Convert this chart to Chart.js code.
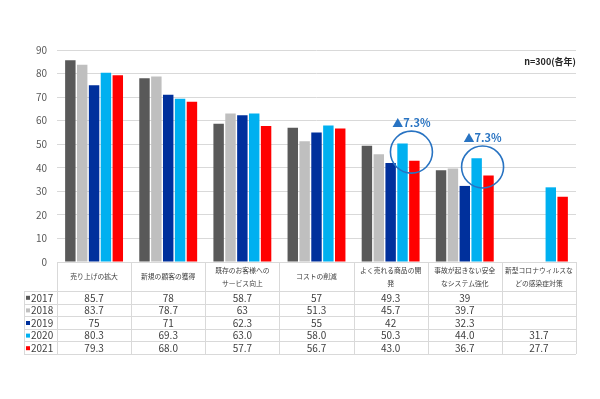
<!DOCTYPE html>
<html><head><meta charset="utf-8">
<script src="https://cdn.jsdelivr.net/npm/chart.js@4/dist/chart.umd.min.js"></script>
<style>html,body{margin:0;padding:0;background:#fff;}#wrap{width:600px;height:399px;}</style>
</head><body><div id="wrap"><canvas id="c" width="600" height="399"></canvas></div>
<script>
const categories = [
  ['売り上げの拡大'],
  ['新規の顧客の獲得'],
  ['既存のお客様への','サービス向上'],
  ['コストの削減'],
  ['よく売れる商品の開','発'],
  ['事故が起きない安全','なシステム強化'],
  ['新型コロナウィルスな','どの感染症対策']
];
const seriesNames = ['2017','2018','2019','2020','2021'];
const v2017 = [85.7, 78, 58.7, 57, 49.3, 39, null];
const v2018 = [83.7, 78.7, 63, 51.3, 45.7, 39.7, null];
const v2019 = [75, 71, 62.3, 55, 42, 32.3, null];
const v2020 = [80.3, 69.3, 63.0, 58.0, 50.3, 44.0, 31.7];
const v2021 = [79.3, 68.0, 57.7, 56.7, 43.0, 36.7, 27.7];
const seriesDecimals = [null, null, null, 1, 1];
const colors = ['#595959','#BFBFBF','#00309C','#00B0F0','#FF0000'];
const yTicks = [0,10,20,30,40,50,60,70,80,90];
const noteText = 'n=300(各年)';
const callouts = [{cat:4, a:3, b:4, text:'▲7.3%', dx:3}, {cat:5, a:3, b:4, text:'▲7.3%', dx:0}];

const allValues = [v2017, v2018, v2019, v2020, v2021];
const FONT = '"Noto Sans CJK JP", "Noto Sans", sans-serif';

const tablePlugin = {
  id: 'tablePlugin',
  afterDraw(chart) {
    const ctx = chart.ctx;
    const ca = chart.chartArea;
    const xs = chart.scales.x;
    const n = categories.length;
    const colW = (ca.right - ca.left) / n;
    const top = ca.bottom;
    const headerH = 29;
    const rowH = 12.6;
    const legendLeft = 24;
    const rowsTop = top + headerH;
    const bottom = rowsTop + rowH * seriesNames.length;
    ctx.save();
    ctx.strokeStyle = '#D9D9D9';
    ctx.lineWidth = 1;
    ctx.beginPath();
    ctx.moveTo(ca.left, Math.round(top) + 0.5); ctx.lineTo(ca.right, Math.round(top) + 0.5);
    for (let r = 0; r <= seriesNames.length; r++) {
      const y = Math.round(rowsTop + r * rowH) + 0.5;
      ctx.moveTo(legendLeft, y); ctx.lineTo(ca.right, y);
    }
    for (let c = 0; c <= n; c++) {
      const x = Math.round(ca.left + c * colW) + 0.5;
      ctx.moveTo(x, top); ctx.lineTo(x, bottom);
    }
    ctx.moveTo(legendLeft + 0.5, rowsTop); ctx.lineTo(legendLeft + 0.5, bottom);
    ctx.stroke();

    ctx.fillStyle = '#404040';
    ctx.textAlign = 'center';
    ctx.textBaseline = 'middle';
    ctx.font = '6.8px ' + FONT;
    for (let c = 0; c < n; c++) {
      const cx = xs.getPixelForValue(c);
      const lines = categories[c];
      const cy = top + headerH / 2;
      const lh = 13;
      lines.forEach((ln, i) => {
        ctx.fillText(ln, cx, cy + (i - (lines.length - 1) / 2) * lh);
      });
    }
    ctx.font = '10px ' + FONT;
    for (let s = 0; s < seriesNames.length; s++) {
      const cy = rowsTop + s * rowH + rowH / 2 + 0.5;
      ctx.fillStyle = colors[s];
      ctx.fillRect(26, cy - 2, 4, 4);
      ctx.fillStyle = '#404040';
      ctx.textAlign = 'left';
      ctx.fillText(seriesNames[s], 31, cy);
      ctx.textAlign = 'center';
      for (let c = 0; c < n; c++) {
        const v = allValues[s][c];
        if (v === null) continue;
        const txt = seriesDecimals[s] ? v.toFixed(seriesDecimals[s]) : String(v);
        ctx.fillText(txt, xs.getPixelForValue(c), cy);
      }
    }
    ctx.font = 'bold 9px ' + FONT;
    ctx.textAlign = 'right';
    ctx.fillStyle = '#262626';
    ctx.fillText(noteText, ca.right, 62);
    callouts.forEach(co => {
      const ma = chart.getDatasetMeta(co.a).data[co.cat];
      const mb = chart.getDatasetMeta(co.b).data[co.cat];
      const cx = (ma.x + mb.x) / 2 + co.dx;
      const cy = (ma.y + mb.y) / 2;
      ctx.beginPath();
      ctx.strokeStyle = '#2873C2';
      ctx.lineWidth = 1.6;
      ctx.arc(cx, cy, 21, 0, Math.PI * 2);
      ctx.stroke();
      ctx.fillStyle = '#2873C2';
      ctx.font = 'bold 11px ' + FONT;
      ctx.textAlign = 'center';
      ctx.fillText(co.text, cx, cy - 29);
    });
    ctx.restore();
  }
};

new Chart(document.getElementById('c'), {
  type: 'bar',
  data: {
    labels: categories.map(c => c.join('')),
    datasets: seriesNames.map((name, i) => ({
      label: name,
      data: allValues[i],
      backgroundColor: colors[i],
      categoryPercentage: 0.80,
      barPercentage: 0.88
    }))
  },
  options: {
    responsive: false,
    animation: false,
    layout: { padding: { top: 50, right: 24, bottom: 137, left: 0 } },
    plugins: { legend: { display: false }, tooltip: { enabled: false } },
    scales: {
      x: { display: false },
      y: {
        min: 0, max: 90,
        afterBuildTicks(scale) { scale.ticks = yTicks.map(v => ({ value: v })); },
        afterFit(scale) { scale.width = 57; },
        border: { display: false },
        grid: { color: '#D9D9D9', drawTicks: false },
        ticks: { color: '#595959', padding: 10, font: { family: FONT, size: 10 } }
      }
    }
  },
  plugins: [tablePlugin]
});
</script>
</body></html>
